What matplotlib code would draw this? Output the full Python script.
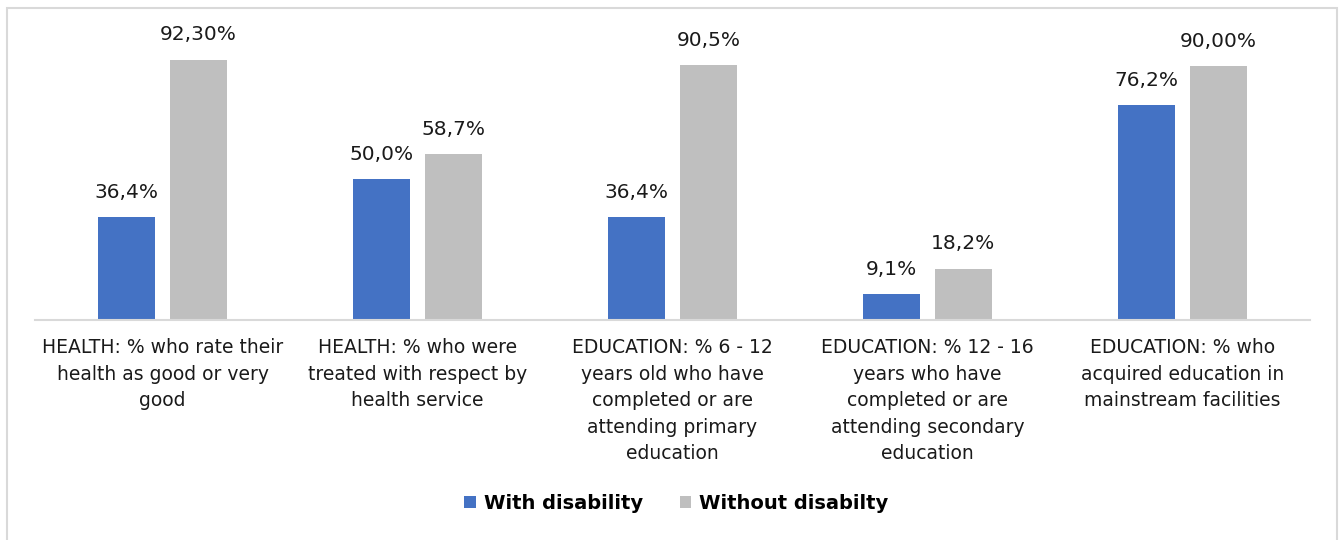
import numpy as np
import matplotlib.pyplot as plt
from matplotlib.patches import Rectangle

plt.rcParams['font.family'] = ['DejaVu Sans']

categories = [
    "HEALTH: % who rate their\nhealth as good or very\ngood",
    "HEALTH: % who were\ntreated with respect by\nhealth service",
    "EDUCATION: % 6 - 12\nyears old who have\ncompleted or are\nattending primary\neducation",
    "EDUCATION: % 12 - 16\nyears who have\ncompleted or are\nattending secondary\neducation",
    "EDUCATION: % who\nacquired education in\nmainstream facilities",
]
with_dis = [36.4, 50.0, 36.4, 9.1, 76.2]
without_dis = [92.3, 58.7, 90.5, 18.2, 90.0]
# number of decimals shown in each data label
with_dec = [1, 1, 1, 1, 1]
without_dec = [2, 1, 1, 1, 2]

blue = '#4472C4'
grey = '#BFBFBF'

fig = plt.figure(figsize=(13.42, 5.4), dpi=100)
ax = fig.add_axes([0.0261, 0.4074, 0.9500, 0.5222])

x = np.arange(len(categories))
w = 0.2235
off = 0.141
b1 = ax.bar(x - off, with_dis, w, color=blue, label='With disability')
b2 = ax.bar(x + off, without_dis, w, color=grey, label='Without disabilty')


def fmt(v, d):
    return f"{v:.{d}f}".replace('.', ',') + '%'


for bars, vals, decs in [(b1, with_dis, with_dec), (b2, without_dis, without_dec)]:
    for r, v, d in zip(bars, vals, decs):
        ax.annotate(fmt(v, d), (r.get_x() + r.get_width() / 2, v),
                    xytext=(0, 11), textcoords='offset points',
                    ha='center', va='bottom', fontsize=14.5, color='#1a1a1a')

ax.set_xlim(-0.5, len(categories) - 0.5)
ax.set_ylim(0, 100)
ax.set_yticks([])
ax.set_xticks(x)
ax.set_xticklabels(categories, fontsize=13.5, color='#1a1a1a', linespacing=1.5)
ax.tick_params(axis='x', length=0, pad=13)
for s in ['top', 'left', 'right']:
    ax.spines[s].set_visible(False)
ax.spines['bottom'].set_color('#D9D9D9')
ax.spines['bottom'].set_linewidth(1.5)

fig.legend(handles=[b1, b2], loc='center', bbox_to_anchor=(0.504, 0.068),
           ncol=2, frameon=False, handlelength=0.6, handleheight=0.6,
           handletextpad=0.4, columnspacing=1.9,
           prop={'weight': 'bold', 'size': 14})

# chart area outline
fig.patches.append(Rectangle((7 / 1342, -0.05), 1330 / 1342, 1.0352,
                             transform=fig.transFigure, fill=False,
                             edgecolor='#D9D9D9', linewidth=1.5))

fig.savefig('out.png', dpi=100)
